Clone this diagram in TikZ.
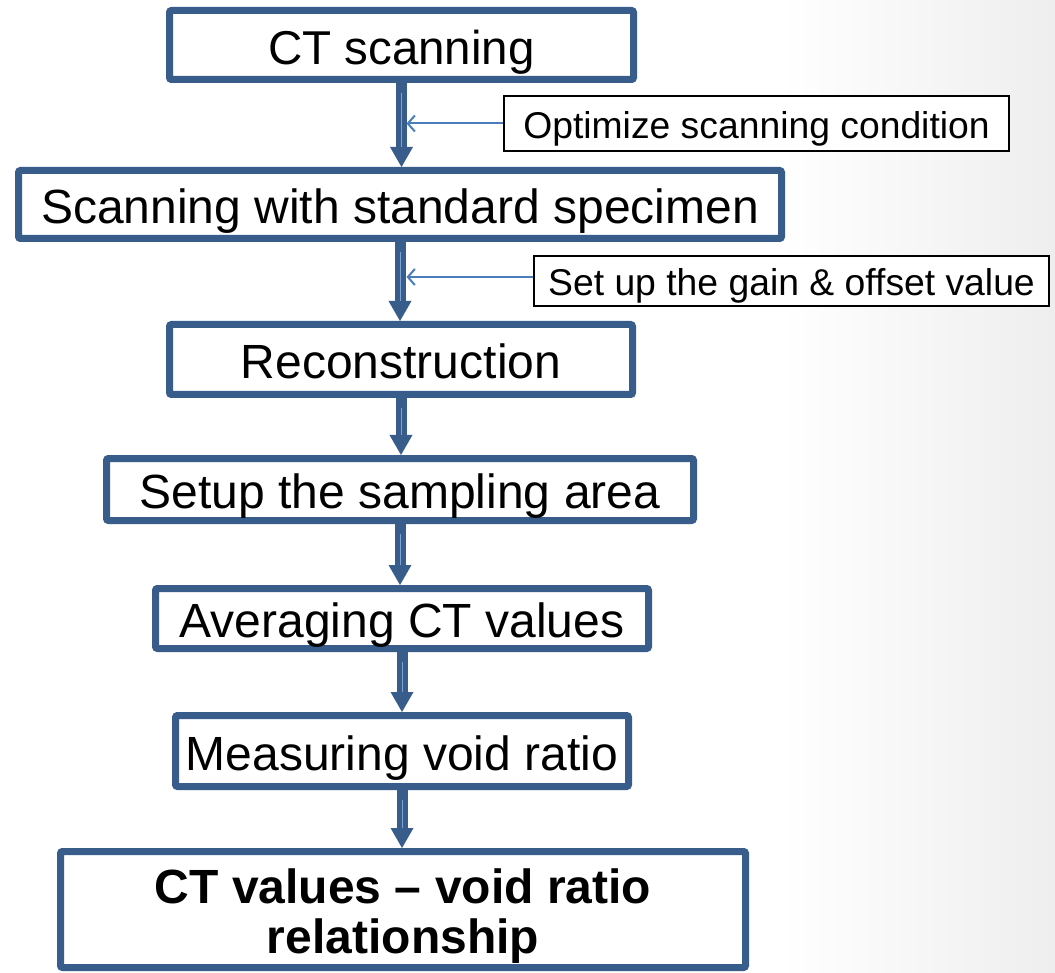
\documentclass[tikz,border=0pt]{standalone}
\usepackage{fontspec}
\setmainfont{Liberation Sans}
\usetikzlibrary{arrows.meta,calc}
\definecolor{boxblue}{RGB}{56,93,138}
\definecolor{lineblue}{RGB}{74,126,187}
\definecolor{hiblue}{RGB}{125,162,212}
\definecolor{bggray}{RGB}{238,238,238}
\begin{document}
\begin{tikzpicture}[x=1pt,y=-1pt,
  stepbox/.style={draw=boxblue, line width=7pt, rounded corners=2pt, fill=white,
    inner sep=0pt, font=\fontsize{48}{56}\selectfont, align=center,
    text height=48pt, text depth=9.6pt},
  sidebox/.style={draw=black, line width=2pt, fill=white, inner sep=0pt,
    font=\fontsize{37.3}{44}\selectfont, text height=37pt, text depth=7.5pt},
  flow/.style={draw=boxblue, line width=11pt,
    -{Triangle[width=23pt,length=20pt,line width=0pt]}},
  hilite/.style={draw=hiblue, line width=1pt},
  sidearrow/.style={draw=lineblue, line width=2pt,
    -{Straight Barb[length=7pt,width=16pt]}}
]
\useasboundingbox (0,0) rectangle (1055,973);
\fill[white] (0,0) rectangle (1055,973);
\shade[left color=white, right color=bggray] (780,0) rectangle (1055,973);

\node[stepbox, minimum width=464pt, minimum height=69pt,
  font=\fontsize{47.5}{56}\selectfont] (b1) at (401.5,45) {CT scanning};
\node[stepbox, minimum width=763pt, minimum height=68pt] (b2) at (400,204.5) {Scanning with standard specimen};
\node[stepbox, minimum width=463pt, minimum height=70pt] (b3) at (401,359.5) {Reconstruction};
\node[stepbox, minimum width=587pt, minimum height=62pt] (b4) at (400,489.5) {Setup the sampling area};
\node[stepbox, minimum width=493pt, minimum height=60pt] (b5) at (402,618.5) {Averaging CT values};
\node[stepbox, minimum width=453pt, minimum height=71pt] (b6) at (402,751) {Measuring void ratio};
\node[stepbox, minimum width=685pt, minimum height=116pt, text height={}, text depth={},
  font=\bfseries\fontsize{48}{50}\selectfont] (b7) at (403,909.5)
  {\rule{0pt}{47pt}CT values -- void ratio\\relationship};

\node[sidebox, minimum width=505pt, minimum height=55pt] (s1) at (756.5,123.5) {Optimize scanning condition};
\node[sidebox, minimum width=515pt, minimum height=50pt] (s2) at (791.5,281) {Set up the gain \& offset value};

\foreach \a/\b in {b1/b2,b2/b3,b3/b4,b4/b5,b5/b6,b6/b7}{
  \draw[flow] (\a.south) -- (\a.south |- \b.north);
  \draw[hilite] ($(\a.south)+(0,10)$) -- ($(\a.south |- \b.north)+(0,-20)$);
}

\coordinate (t1) at (406.5,123.5);
\coordinate (t2) at (406.5,277);
\draw[sidearrow] (s1.west) -- (t1);
\draw[sidearrow] (s2.west |- t2) -- (t2);
\end{tikzpicture}
\end{document}
